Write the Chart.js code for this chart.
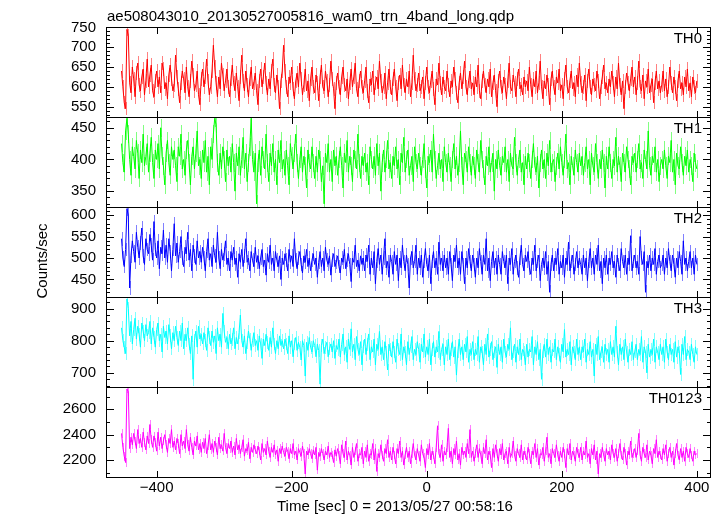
<!DOCTYPE html>
<html>
<head>
<meta charset="utf-8">
<script src="https://cdn.jsdelivr.net/npm/chart.js@4.4.1/dist/chart.umd.min.js"></script>
<style>
  html, body { margin: 0; padding: 0; background: #fff; }
</style>
</head>
<body>
<canvas id="lc" width="724" height="516"></canvas>
<script>
const plotTitle = 'ae508043010_20130527005816_wam0_trn_4band_long.qdp';
const xTitle = 'Time [sec] 0 = 2013/05/27 00:58:16';
const yTitle = 'Counts/sec';

// light curve bins: start time and bin width (sec)
const binStart = -452;
const binWidth = 2;

const xTicks = [-400, -200, 0, 200, 400];

const th0 = [
  640, 600, 560, 545, 745, 730, 610, 585, 650, 620, 575, 635, 660, 605, 590, 625, 645, 580, 615, 670,
  600, 630, 655, 590, 575, 615, 640, 600, 625, 585, 660, 645, 595, 610, 570, 630, 655, 620, 590, 605,
  680, 625, 595, 560, 610, 640, 620, 585, 650, 600, 575, 615, 665, 630, 590, 605, 640, 580, 555, 620,
  645, 600, 625, 670, 615, 580, 600, 640, 705, 650, 610, 575, 625, 595, 660, 630, 590, 615, 645, 600,
  575, 620, 655, 610, 590, 635, 600, 565, 625, 680, 615, 590, 640, 605, 575, 620, 650, 595, 610, 635,
  590, 555, 615, 645, 600, 625, 660, 610, 580, 620, 595, 640, 670, 605, 585, 630, 600, 545, 615, 640,
  705, 640, 600, 575, 625, 610, 650, 595, 570, 615, 635, 600, 660, 620, 580, 605, 645, 590, 615, 565,
  620, 650, 600, 585, 630, 610, 565, 625, 655, 600, 590, 640, 615, 575, 605, 665, 620, 595, 545, 610,
  635, 600, 580, 625, 650, 605, 590, 620, 570, 610, 645, 600, 625, 660, 595, 575, 615, 640, 600, 585,
  615, 650, 590, 560, 620, 605, 640, 580, 610, 625, 595, 665, 615, 585, 600, 635, 570, 610, 645, 600,
  580, 620, 645, 600, 565, 610, 630, 595, 655, 605, 585, 620, 600, 640, 575, 610, 680, 620, 590, 605,
  635, 590, 600, 625, 570, 610, 650, 600, 585, 615, 640, 595, 555, 620, 605, 660, 610, 580, 625, 600,
  590, 640, 605, 575, 615, 600, 650, 620, 585, 560, 610, 635, 595, 625, 665, 600, 580, 615, 640, 595,
  610, 580, 625, 600, 655, 590, 570, 615, 640, 605, 585, 620, 600, 645, 575, 610, 630, 590, 550, 615,
  640, 600, 585, 625, 605, 570, 615, 660, 600, 590, 630, 610, 575, 620, 645, 595, 605, 580, 625, 600,
  615, 590, 650, 605, 575, 620, 600, 640, 585, 610, 665, 600, 570, 615, 595, 630, 605, 555, 620, 640,
  600, 580, 625, 610, 645, 590, 605, 570, 620, 655, 600, 585, 615, 640, 595, 610, 575, 630, 600, 660,
  610, 585, 600, 630, 565, 615, 645, 600, 580, 620, 605, 590, 640, 615, 570, 600, 625, 655, 595, 610,
  585, 620, 600, 640, 610, 575, 625, 595, 660, 605, 580, 615, 545, 600, 635, 610, 590, 620, 650, 600,
  625, 580, 610, 665, 600, 590, 630, 570, 615, 600, 645, 585, 605, 620, 560, 610, 640, 595, 615, 585,
  605, 640, 590, 620, 575, 600, 650, 610, 585, 625, 600, 565, 615, 640, 595, 610, 580, 625, 600, 645,
  590, 610, 575, 625, 600, 585, 615
];

const th1 = [
  425, 395, 380, 445, 465, 440, 400, 375, 420, 405, 385, 430, 410, 370, 415, 395, 440, 390, 405, 425,
  380, 410, 435, 395, 370, 415, 400, 425, 385, 450, 405, 390, 360, 410, 430, 395, 375, 420, 400, 415,
  390, 365, 420, 405, 440, 385, 400, 375, 415, 430, 395, 360, 405, 420, 385, 410, 445, 390, 400, 370,
  415, 395, 430, 380, 405, 360, 420, 400, 440, 465, 455, 395, 375, 410, 385, 420, 400, 365, 415, 390,
  405, 380, 425, 395, 350, 410, 390, 420, 375, 400, 435, 385, 410, 365, 395, 420, 465, 400, 380, 410,
  330, 395, 415, 375, 420, 400, 385, 440, 395, 365, 410, 390, 425, 380, 400, 360, 415, 395, 430, 385,
  400, 375, 415, 390, 360, 425, 405, 385, 410, 440, 395, 370, 400, 420, 380, 405, 390, 355, 415, 395,
  385, 420, 395, 370, 405, 380, 415, 400, 365, 390, 330, 410, 395, 425, 380, 400, 365, 415, 390, 405,
  375, 400, 420, 390, 355, 410, 395, 430, 380, 405, 390, 365, 415, 400, 385, 440, 395, 370, 405, 390,
  410, 380, 395, 360, 420, 400, 385, 405, 375, 425, 390, 410, 350, 395, 415, 380, 400, 430, 385, 395,
  370, 405, 390, 420, 385, 400, 360, 410, 395, 435, 380, 400, 415, 375, 390, 405, 365, 420, 395, 385,
  410, 390, 375, 400, 425, 385, 355, 405, 395, 415, 380, 440, 400, 370, 390, 410, 385, 400, 365, 420,
  395, 380, 410, 390, 365, 400, 425, 385, 405, 375, 395, 445, 390, 360, 410, 400, 380, 420, 395, 375,
  405, 390, 370, 415, 395, 380, 430, 400, 385, 360, 405, 390, 420, 380, 395, 410, 350, 400, 385, 415,
  390, 375, 405, 395, 420, 380, 400, 365, 410, 390, 385, 435, 395, 375, 400, 415, 380, 395, 360, 405,
  385, 410, 395, 370, 400, 425, 390, 380, 405, 355, 395, 415, 385, 400, 370, 410, 390, 430, 380, 395,
  400, 365, 390, 410, 385, 420, 395, 375, 400, 440, 385, 395, 360, 405, 390, 375, 415, 395, 380, 410,
  390, 405, 375, 395, 420, 385, 400, 360, 410, 390, 380, 425, 395, 370, 400, 385, 415, 395, 355, 405,
  385, 420, 395, 370, 400, 390, 435, 380, 405, 390, 365, 410, 395, 380, 420, 400, 385, 360, 405, 395,
  410, 380, 400, 425, 385, 395, 370, 415, 400, 385, 445, 390, 375, 405, 395, 420, 380, 400, 365, 390,
  400, 385, 415, 390, 370, 405, 395, 430, 380, 400, 360, 410, 390, 385, 420, 395, 375, 405, 390, 415,
  380, 400, 390, 365, 410, 395, 385
];

const th2 = [
  545, 500, 480, 520, 615, 600, 430, 505, 540, 515, 490, 560, 525, 500, 535, 570, 505, 485, 545, 520,
  510, 555, 530, 495, 585, 520, 500, 540, 475, 525, 510, 565, 500, 530, 490, 545, 515, 470, 520, 580,
  505, 535, 490, 515, 550, 500, 480, 525, 510, 560, 495, 520, 470, 530, 505, 485, 540, 500, 515, 490,
  525, 500, 470, 515, 545, 495, 510, 480, 530, 505, 490, 560, 500, 475, 520, 495, 510, 540, 485, 500,
  470, 515, 495, 525, 485, 500, 455, 510, 490, 520, 480, 505, 545, 490, 500, 470, 515, 495, 480, 525,
  490, 505, 475, 500, 520, 480, 495, 460, 510, 490, 530, 485, 500, 470, 515, 495, 480, 505, 450, 500,
  485, 510, 495, 470, 520, 490, 505, 480, 545, 495, 475, 500, 515, 485, 465, 505, 490, 520, 480, 500,
  470, 495, 510, 485, 500, 455, 490, 515, 480, 500, 470, 525, 495, 485, 505, 460, 495, 510, 480, 490,
  505, 480, 465, 500, 490, 520, 475, 495, 510, 485, 445, 500, 490, 530, 480, 495, 470, 505, 485, 500,
  470, 507, 492, 530, 462, 500, 477, 515, 440, 492, 522, 485, 507, 462, 500, 545, 477, 492, 455, 507,
  492, 462, 515, 485, 507, 447, 500, 477, 530, 492, 470, 507, 485, 430, 500, 515, 477, 492, 530, 462,
  500, 477, 507, 455, 492, 522, 485, 470, 507, 440, 492, 515, 477, 500, 462, 537, 485, 500, 470, 507,
  477, 500, 462, 515, 485, 447, 507, 492, 530, 477, 500, 462, 515, 485, 440, 500, 477, 522, 492, 470,
  507, 485, 455, 500, 477, 522, 492, 462, 507, 485, 545, 470, 500, 447, 492, 515, 477, 500, 462, 507,
  485, 462, 515, 492, 477, 507, 440, 500, 485, 522, 462, 492, 507, 477, 455, 500, 530, 485, 470, 507,
  492, 515, 477, 462, 500, 485, 530, 470, 492, 507, 447, 485, 500, 477, 515, 462, 492, 420, 485, 507,
  470, 500, 485, 522, 462, 492, 477, 507, 455, 500, 485, 537, 470, 492, 507, 462, 485, 515, 477, 500,
  485, 462, 507, 477, 500, 447, 492, 522, 477, 500, 462, 507, 485, 530, 470, 492, 440, 500, 477, 507,
  462, 500, 485, 515, 477, 492, 455, 507, 485, 470, 522, 492, 477, 507, 462, 500, 485, 552, 470, 492,
  507, 477, 492, 462, 550, 500, 485, 515, 420, 492, 477, 507, 470, 500, 485, 522, 462, 492, 507, 477,
  485, 507, 462, 500, 477, 522, 492, 470, 507, 485, 455, 500, 477, 515, 492, 462, 540, 485, 500, 470,
  492, 515, 477, 500, 462, 507, 485
];

const th3 = [
  840, 800, 780, 760, 930, 900, 815, 860, 790, 835, 870, 805, 845, 820, 780, 855, 830, 800, 850, 815,
  825, 860, 790, 840, 810, 780, 835, 855, 800, 820, 765, 845, 810, 830, 790, 850, 815, 775, 825, 800,
  845, 810, 785, 830, 800, 855, 775, 820, 800, 840, 790, 760, 815, 680, 800, 830, 780, 845, 805, 820,
  790, 825, 800, 770, 840, 810, 785, 830, 795, 815, 760, 840, 800, 820, 780, 885, 830, 795, 810, 775,
  820, 790, 805, 840, 775, 810, 790, 825, 880, 800, 780, 815, 760, 795, 830, 805, 770, 800, 825, 785,
  800, 770, 815, 790, 745, 805, 785, 820, 795, 770, 810, 780, 840, 790, 760, 800, 775, 815, 785, 800,
  775, 805, 790, 760, 815, 780, 800, 750, 790, 810, 770, 795, 780, 740, 800, 785, 690, 795, 770, 810,
  780, 765, 800, 785, 750, 790, 770, 665, 785, 805, 760, 780, 795, 750, 775, 790, 765, 800, 745, 785,
  773, 805, 749, 789, 821, 757, 781, 733, 805, 773, 837, 765, 789, 741, 813, 773, 757, 797, 725, 781,
  805, 757, 789, 821, 741, 781, 765, 805, 725, 789, 773, 829, 757, 781, 741, 797, 765, 709, 789, 773,
  749, 797, 765, 733, 805, 773, 757, 821, 741, 781, 765, 725, 797, 757, 781, 813, 741, 773, 757, 797,
  773, 733, 789, 765, 821, 749, 781, 757, 805, 725, 773, 797, 749, 781, 765, 829, 741, 773, 789, 725,
  781, 757, 805, 741, 773, 797, 749, 781, 693, 765, 805, 757, 781, 741, 789, 765, 813, 733, 773, 757,
  797, 741, 773, 757, 813, 733, 781, 765, 725, 789, 757, 821, 749, 773, 797, 741, 765, 781, 717, 789,
  757, 781, 733, 805, 765, 749, 789, 773, 840, 741, 765, 789, 733, 781, 757, 805, 741, 773, 765, 725,
  789, 749, 773, 765, 813, 725, 781, 757, 797, 741, 773, 680, 765, 789, 749, 805, 757, 781, 733, 773,
  765, 805, 741, 781, 757, 733, 789, 765, 835, 749, 773, 757, 797, 725, 781, 765, 741, 805, 757, 781,
  741, 781, 765, 805, 733, 773, 757, 797, 749, 773, 690, 789, 757, 813, 741, 765, 781, 733, 789, 757,
  773, 733, 797, 757, 781, 749, 845, 765, 725, 789, 757, 781, 741, 805, 765, 733, 773, 757, 797, 741,
  765, 789, 741, 773, 757, 813, 733, 781, 765, 700, 789, 749, 773, 757, 805, 733, 781, 765, 741, 789,
  757, 781, 733, 805, 765, 741, 789, 757, 773, 733, 797, 749, 781, 765, 695, 789, 757, 813, 741, 773,
  765, 741, 789, 757, 733, 781, 757
];

const th0123 = [
  2410, 2300, 2230, 2180, 2760, 2740, 2290, 2380, 2320, 2410, 2350, 2290, 2440, 2330, 2370, 2300, 2420, 2340, 2280, 2390,
  2330, 2480, 2360, 2300, 2390, 2340, 2270, 2420, 2310, 2380, 2290, 2350, 2400, 2320, 2260, 2370, 2330, 2440, 2300, 2350,
  2280, 2370, 2330, 2250, 2400, 2310, 2350, 2290, 2440, 2320, 2270, 2380, 2300, 2240, 2350, 2310, 2390, 2280, 2330, 2260,
  2340, 2290, 2370, 2250, 2310, 2400, 2280, 2330, 2260, 2350, 2300, 2240, 2380, 2290, 2320, 2270, 2410, 2300, 2250, 2330,
  2290, 2350, 2260, 2310, 2240, 2370, 2280, 2320, 2250, 2300, 2360, 2230, 2290, 2270, 2340, 2210, 2300, 2260, 2320, 2280,
  2250, 2310, 2270, 2200, 2330, 2260, 2290, 2240, 2350, 2270, 2220, 2300, 2260, 2320, 2240, 2280, 2190, 2290, 2250, 2310,
  2260, 2230, 2300, 2270, 2210, 2290, 2250, 2330, 2240, 2270, 2200, 2290, 2260, 2230, 2310, 2250, 2090, 2270, 2240, 2290,
  2250, 2210, 2280, 2240, 2300, 2120, 2260, 2230, 2290, 2250, 2200, 2270, 2240, 2310, 2220, 2260, 2240, 2180, 2280, 2230,
  2290, 2240, 2170, 2320, 2250, 2220, 2350, 2200, 2270, 2240, 2160, 2300, 2220, 2270, 2330, 2190, 2250, 2240, 2300, 2170,
  2270, 2220, 2320, 2190, 2250, 2240, 2330, 2200, 2290, 2110, 2250, 2220, 2320, 2240, 2190, 2290, 2250, 2360, 2220, 2270,
  2200, 2300, 2240, 2170, 2290, 2250, 2350, 2220, 2270, 2160, 2240, 2300, 2220, 2270, 2170, 2250, 2330, 2240, 2200, 2290,
  2240, 2190, 2320, 2250, 2220, 2140, 2290, 2240, 2330, 2200, 2270, 2240, 2170, 2300, 2470, 2250, 2220, 2320, 2190, 2270,
  2240, 2300, 2450, 2220, 2270, 2170, 2290, 2240, 2350, 2200, 2250, 2160, 2300, 2240, 2270, 2220, 2330, 2250, 2440, 2220,
  2270, 2190, 2250, 2320, 2220, 2290, 2240, 2170, 2300, 2250, 2360, 2200, 2270, 2240, 2140, 2290, 2220, 2320, 2250, 2190,
  2290, 2240, 2330, 2200, 2250, 2270, 2170, 2300, 2220, 2250, 2350, 2240, 2190, 2290, 2250, 2220, 2320, 2200, 2270, 2240,
  2200, 2300, 2250, 2170, 2270, 2240, 2330, 2220, 2290, 2160, 2250, 2240, 2300, 2190, 2270, 2380, 2220, 2250, 2170, 2290,
  2250, 2220, 2320, 2240, 2190, 2270, 2220, 2300, 2250, 2140, 2290, 2240, 2330, 2200, 2270, 2240, 2190, 2300, 2250, 2220,
  2300, 2200, 2270, 2240, 2350, 2220, 2250, 2170, 2290, 2240, 2320, 2200, 2270, 2090, 2250, 2220, 2300, 2240, 2190, 2290,
  2240, 2270, 2200, 2320, 2250, 2220, 2290, 2190, 2250, 2330, 2240, 2200, 2300, 2250, 2160, 2270, 2240, 2350, 2220, 2250,
  2290, 2220, 2270, 2410, 2240, 2190, 2300, 2250, 2220, 2320, 2200, 2270, 2240, 2170, 2290, 2250, 2360, 2220, 2270, 2240,
  2200, 2290, 2240, 2320, 2190, 2250, 2300, 2220, 2270, 2160, 2250, 2330, 2240, 2200, 2290, 2220, 2270, 2190, 2300, 2250,
  2220, 2290, 2240, 2190, 2270, 2240, 2250
];

// 1-sigma errors per band (counts/sec)
const errTH0 = 17, errTH1 = 14, errTH2 = 16, errTH3 = 20, errTH0123 = 34;

const ticksTH0 = [550, 600, 650, 700, 750];
const ticksTH1 = [350, 400, 450];
const ticksTH2 = [450, 500, 550, 600];
const ticksTH3 = [700, 800, 900];
const ticksTH0123 = [2200, 2400, 2600];

const times = th0.map((_, i) => binStart + i * binWidth);

const FONT = '15px "Liberation Sans", Arial, sans-serif';

const panels = [
  { id: 'y0', name: 'TH0',    values: th0,    err: errTH0,    ticks: ticksTH0,    minor: 10,  min: 524,  max: 751,  color: '#ff0000', light: '#ff8080' },
  { id: 'y1', name: 'TH1',    values: th1,    err: errTH1,    ticks: ticksTH1,    minor: 10,  min: 325,  max: 467,  color: '#00ff00', light: '#80ff80' },
  { id: 'y2', name: 'TH2',    values: th2,    err: errTH2,    ticks: ticksTH2,    minor: 10,  min: 409,  max: 619,  color: '#0000ff', light: '#8080ff' },
  { id: 'y3', name: 'TH3',    values: th3,    err: errTH3,    ticks: ticksTH3,    minor: 20,  min: 656,  max: 936,  color: '#00ffff', light: '#80ffff' },
  { id: 'y4', name: 'TH0123', values: th0123, err: errTH0123, ticks: ticksTH0123, minor: 100, min: 2066, max: 2776, color: '#ff00ff', light: '#ff80ff' }
];

const scales = {
  x: {
    type: 'linear',
    position: 'bottom',
    min: -475,
    max: 421,
    grid: { display: false, drawTicks: false },
    border: { display: false },
    afterBuildTicks: axis => { axis.ticks = xTicks.map(v => ({ value: v })); },
    afterFit: axis => { axis.height = 39; },
    ticks: {
      autoSkip: false,
      maxRotation: 0,
      padding: 2,
      color: '#000',
      font: { family: '"Liberation Sans", Arial, sans-serif', size: 15 },
      callback: v => (v < 0 ? '\u2212' + Math.abs(v) : String(v))
    }
  }
};

panels.forEach((p, k) => {
  scales[p.id] = {
    type: 'linear',
    position: 'left',
    stack: 'panels',
    stackWeight: 1,
    weight: panels.length - k,
    min: p.min,
    max: p.max,
    grid: { display: false, drawTicks: false },
    border: { display: false },
    afterBuildTicks: axis => { axis.ticks = p.ticks.map(v => ({ value: v })); },
    afterFit: axis => { axis.width = 106; },
    ticks: {
      autoSkip: false,
      padding: 10,
      color: '#000',
      font: { family: '"Liberation Sans", Arial, sans-serif', size: 15 },
      callback: v => String(v)
    }
  };
});

// light vertical error bars, drawn under the curves (1px wide rects)
const errorBars = {
  id: 'errorBars',
  beforeDatasetsDraw(chart) {
    const ctx = chart.ctx;
    const xs = chart.scales.x;
    panels.forEach(p => {
      const ys = chart.scales[p.id];
      const top = Math.round(ys.top), bot = Math.round(ys.bottom);
      ctx.save();
      ctx.fillStyle = p.light;
      p.values.forEach((v, i) => {
        const px = Math.round(xs.getPixelForValue(times[i]));
        const hi = Math.max(top, Math.round(ys.getPixelForValue(v + p.err)));
        const lo = Math.min(bot, Math.round(ys.getPixelForValue(v - p.err)));
        ctx.fillRect(px, hi, 1, lo - hi);
      });
      ctx.restore();
    });
  }
};

// panel frames, inward ticks and the texts
const frames = {
  id: 'frames',
  afterDraw(chart) {
    const ctx = chart.ctx;
    const xs = chart.scales.x;
    const L = Math.round(xs.left);
    const R = Math.round(xs.right) - 1;
    ctx.save();
    ctx.fillStyle = '#000';

    panels.forEach(p => {
      const ys = chart.scales[p.id];
      const T = Math.round(ys.top);
      const B = Math.round(ys.bottom);
      ctx.fillRect(L, T, R - L + 1, 1);
      ctx.fillRect(L, B, R - L + 1, 1);
      ctx.fillRect(L, T, 1, B - T + 1);
      ctx.fillRect(R, T, 1, B - T + 1);

      xTicks.forEach(v => {
        const px = Math.round(xs.getPixelForValue(v));
        ctx.fillRect(px, T, 1, 7);
        ctx.fillRect(px, B - 6, 1, 7);
      });
      for (let v = Math.ceil(p.min / p.minor) * p.minor; v <= p.max; v += p.minor) {
        const py = Math.round(ys.getPixelForValue(v));
        const len = p.ticks.indexOf(v) >= 0 ? 8 : 4;
        ctx.fillRect(L, py, len, 1);
        ctx.fillRect(R - len + 1, py, len, 1);
      }

      ctx.font = FONT;
      ctx.textAlign = 'right';
      ctx.textBaseline = 'alphabetic';
      ctx.fillText(p.name, R - 8, ys.top + 16);
    });

    ctx.font = FONT;
    ctx.textAlign = 'left';
    ctx.textBaseline = 'alphabetic';
    ctx.fillText(plotTitle, 107, 21);
    ctx.fillText(xTitle, 277, 511);

    ctx.translate(47, 261);
    ctx.rotate(-Math.PI / 2);
    ctx.textAlign = 'center';
    ctx.fillText(yTitle, 0, 0);
    ctx.restore();
  }
};

new Chart(document.getElementById('lc'), {
  type: 'line',
  data: {
    datasets: panels.map(p => ({
      label: p.name,
      yAxisID: p.id,
      xAxisID: 'x',
      data: p.values.map((v, i) => ({ x: times[i], y: v })),
      borderColor: p.color,
      borderWidth: 1,
      pointRadius: 0,
      tension: 0,
      fill: false
    }))
  },
  options: {
    responsive: false,
    animation: false,
    layout: { padding: { left: 0, right: 13, top: 27, bottom: 0 } },
    plugins: {
      legend: { display: false },
      tooltip: { enabled: false },
      title: { display: false }
    },
    scales: scales
  },
  plugins: [errorBars, frames]
});
</script>
</body>
</html>
